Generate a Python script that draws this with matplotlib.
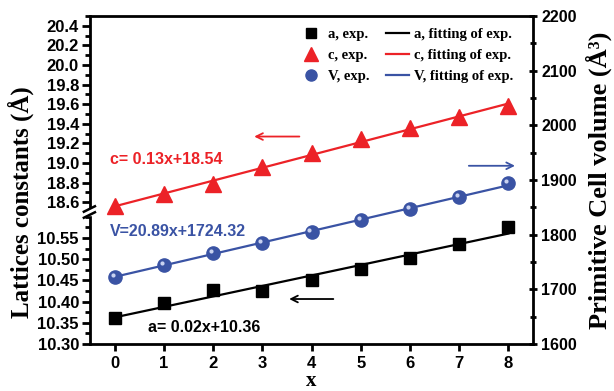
import numpy as np
import matplotlib
matplotlib.use("Agg")
import matplotlib.pyplot as plt
from matplotlib.lines import Line2D
from matplotlib.patches import Rectangle
from matplotlib.ticker import MultipleLocator, FormatStrFormatter
from matplotlib.transforms import ScaledTranslation

# composition index
x = [0, 1, 2, 3, 4, 5, 6, 7, 8]
# lattice constant a (A), lower-left axis
a_exp = [10.361, 10.397, 10.427, 10.425, 10.451, 10.477, 10.503, 10.536, 10.576]
# lattice constant c (A), upper-left axis
c_exp = [18.56, 18.68, 18.79, 18.96, 19.10, 19.24, 19.36, 19.47, 19.58]
# primitive cell volume (A^3), right axis
v_exp = [1723, 1745, 1766, 1785, 1805, 1826, 1847, 1868, 1894]

a_label = "a= 0.02x+10.36"
c_label = "c= 0.13x+18.54"
v_label = "V=20.89x+1724.32"

RED = "#ec2227"
BLUE = "#3a53a4"
SANS = "Liberation Sans"
SERIF = "Liberation Serif"

plt.rcParams["font.family"] = SANS
plt.rcParams["font.weight"] = "bold"

fig = plt.figure(figsize=(6.14, 3.91), dpi=100)

left, right = 90 / 614, 533 / 614
bot, top = 1 - 344 / 391, 1 - 16 / 391
brk = 1 - 212 / 391
w = right - left

# right axis (volume), also carries the frame and the x axis
ax_v = fig.add_axes([left, bot, w, top - bot])
ax_v.set_xlim(-0.5, 8.5)
ax_v.set_ylim(1600, 2200)
ax_v.yaxis.tick_right()
ax_v.yaxis.set_label_position("right")
ax_v.spines["left"].set_visible(False)
for s in ["top", "right", "bottom"]:
    ax_v.spines[s].set_linewidth(2)
ax_v.yaxis.set_major_locator(MultipleLocator(100))
ax_v.yaxis.set_minor_locator(MultipleLocator(50))
ax_v.xaxis.set_major_locator(MultipleLocator(1))
ax_v.tick_params(axis="x", which="major", direction="out", length=5, width=2,
                 labelsize=12, pad=4)
ax_v.tick_params(axis="y", which="major", direction="inout", length=6, width=2,
                 labelsize=11.5, pad=3)
ax_v.tick_params(axis="y", which="minor", direction="inout", length=4, width=2)
ax_v.set_ylabel("Primitive Cell volume (Å³)", family=SERIF, weight="bold",
                fontsize=19, labelpad=6)
fig.text(left + w / 2, 0.0, "x", family=SERIF, weight="bold", fontsize=15,
         ha="center", va="bottom")

# upper-left (c) and lower-left (a) parts of the broken axis
ax_c = fig.add_axes([left, brk, w, top - brk], sharex=ax_v)
ax_a = fig.add_axes([left, bot, w, brk - bot], sharex=ax_v)
for ax in (ax_c, ax_a):
    ax.patch.set_visible(False)
    for s in ["top", "right", "bottom"]:
        ax.spines[s].set_visible(False)
    ax.spines["left"].set_linewidth(2)
    ax.tick_params(axis="x", which="both", bottom=False, labelbottom=False)
    ax.tick_params(axis="y", which="major", direction="out", length=6, width=2,
                   labelsize=12, pad=2)
    ax.tick_params(axis="y", which="minor", direction="out", length=3.5, width=2)

ax_c.set_ylim(18.5, 20.5)
ax_c.set_yticks(np.arange(18.6, 20.41, 0.2))
ax_c.yaxis.set_minor_locator(MultipleLocator(0.1))
ax_c.yaxis.set_major_formatter(FormatStrFormatter("%.1f"))

ax_a.set_ylim(10.30, 10.611)
ax_a.set_yticks(np.arange(10.30, 10.551, 0.05))
ax_a.yaxis.set_minor_locator(MultipleLocator(0.025))
ax_a.yaxis.set_major_formatter(FormatStrFormatter("%.2f"))

fig.text(0.034, 1 - 202 / 391, "Lattices constants (Å)", family=SERIF,
         weight="bold", fontsize=18, rotation=90, ha="center", va="center")

# fits
xx = np.array([x[0], x[-1]])
pa = np.polyfit(x, a_exp, 1)
pc = np.polyfit(x, c_exp, 1)
pv = np.polyfit(x, v_exp, 1)

ax_a.plot(xx, np.polyval(pa, xx), color="black", lw=1.6, zorder=2)
ax_c.plot(xx, np.polyval(pc, xx), color=RED, lw=1.6, zorder=2)
ax_v.plot(xx, np.polyval(pv, xx), color=BLUE, lw=1.6, zorder=2)

ax_a.plot(x, a_exp, "s", color="black", ms=8, clip_on=False, zorder=3)
ax_c.plot(x, c_exp, "^", color=RED, ms=12, clip_on=False, zorder=3)
ax_v.plot(x, v_exp, "o", color=BLUE, mec=BLUE, ms=9.5, clip_on=False, zorder=3)
# little highlight on the spheres
shift = ScaledTranslation(-1.5 / 72, 1.5 / 72, fig.dpi_scale_trans)
ax_v.plot(x, v_exp, "o", color="#c9d2f0", ms=3, mew=0, zorder=4,
          transform=ax_v.transData + shift)

# equation labels
ax_c.text(-0.1, 19.04, c_label, color=RED, fontsize=11.5, weight="bold",
          ha="left", va="center")
ax_v.text(-0.1, 1805, v_label, color=BLUE, fontsize=11.5, weight="bold",
          ha="left", va="center")
ax_a.text(0.67, 10.34, a_label, color="black", fontsize=11.5, weight="bold",
          ha="left", va="center")

# arrows pointing to the matching axis
arrow = dict(arrowstyle="->", lw=1.3, mutation_scale=12)
ax_c.annotate("", xy=(2.78, 19.27), xytext=(3.81, 19.27),
              arrowprops=dict(arrow, color=RED))
ax_v.annotate("", xy=(8.19, 1926), xytext=(7.14, 1926),
              arrowprops=dict(arrow, color=BLUE))
ax_a.annotate("", xy=(3.49, 10.406), xytext=(4.50, 10.406),
              arrowprops=dict(arrow, color="black"))

# legend
handles = [
    Line2D([], [], ls="none", marker="s", color="black", ms=7),
    Line2D([], [], ls="none", marker="^", color=RED, ms=10),
    Line2D([], [], ls="none", marker="o", color=BLUE, ms=8),
    Line2D([], [], color="black", lw=1.6),
    Line2D([], [], color=RED, lw=1.6),
    Line2D([], [], color=BLUE, lw=1.6),
]
labels = ["a, exp.", "c, exp.", "V, exp.",
          "a, fitting of exp.", "c, fitting of exp.", "V, fitting of exp."]
ax_v.legend(handles, labels, ncol=2, loc="upper right",
            bbox_to_anchor=(0.985, 1.005), frameon=False,
            prop=dict(family=SERIF, weight="bold", size=10.5),
            handlelength=1.6, handletextpad=0.35, columnspacing=1.1,
            labelspacing=0.55)

# break marks on the left spine
gap = 3 / 391
fig.patches.append(Rectangle((left - 0.008, brk - gap), 0.016, 2 * gap,
                             transform=fig.transFigure, color="white",
                             zorder=5))
for dy in (-gap, gap):
    fig.lines.append(Line2D([left - 0.010, left + 0.008],
                            [brk + dy - 0.007, brk + dy + 0.007],
                            transform=fig.transFigure, color="black", lw=1.8,
                            zorder=6))

fig.savefig("out.png", dpi=100)
